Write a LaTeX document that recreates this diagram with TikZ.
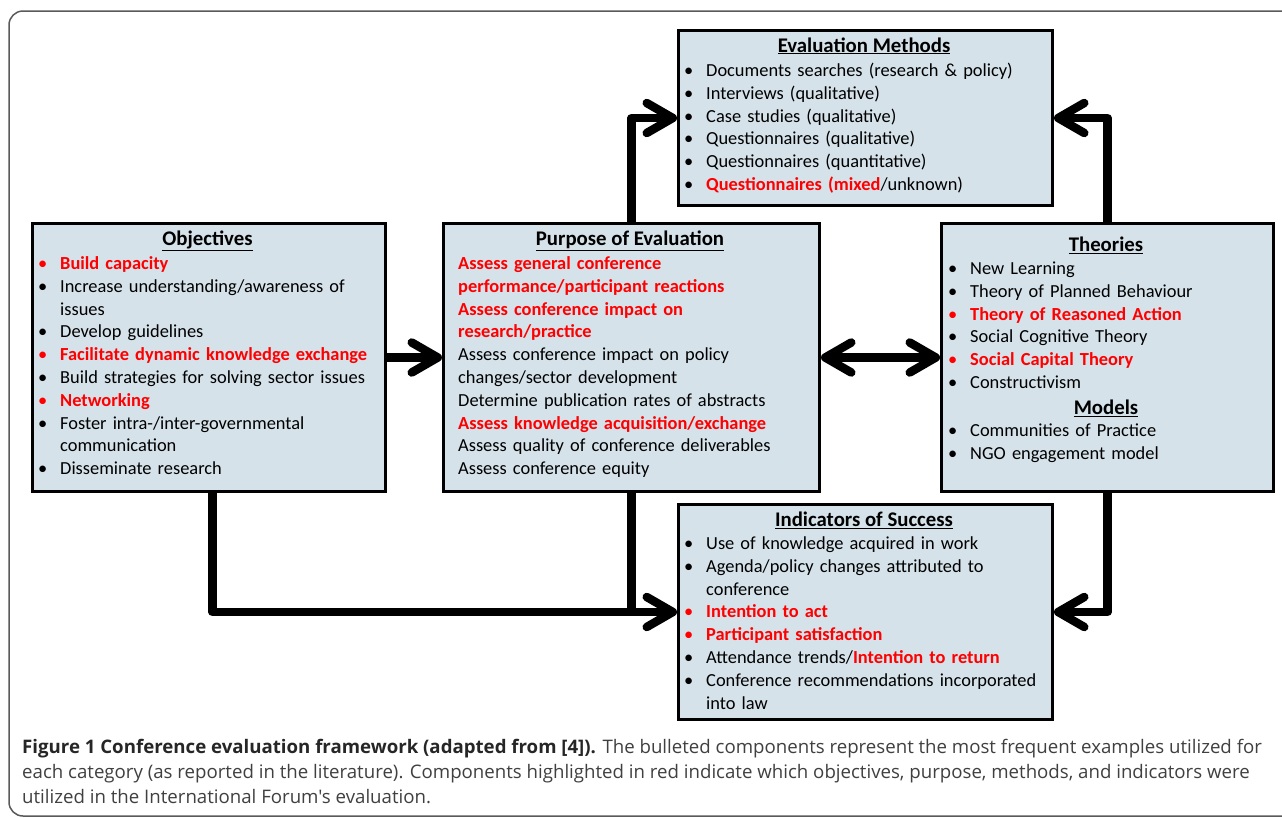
\documentclass[tikz,border=0pt]{standalone}
\usepackage{fontspec}
\setmainfont{Carlito}
\newfontfamily\capfont{Open Sans}
\usetikzlibrary{arrows.meta}
\definecolor{boxfill}{RGB}{213,226,234}
\definecolor{hl}{RGB}{255,0,0}
\definecolor{capgray}{RGB}{64,64,64}
\definecolor{framegray}{RGB}{90,90,90}
\newcommand{\bi}[1]{\makebox[22pt][l]{\textbullet}#1\par}
\newcommand{\ri}[1]{\makebox[22pt][l]{\textcolor{hl}{\textbullet}}\textcolor{hl}{\textbf{#1}}\par}
\newcommand{\cont}[1]{\hspace*{22pt}#1\par}
\newcommand{\rb}[1]{\textcolor{hl}{\textbf{#1}}}
\begin{document}
\begin{tikzpicture}[x=1pt,y=-1pt,
  box/.style={draw=black,line width=3pt,fill=boxfill,anchor=north west,inner sep=0pt},
  ttl/.style={font=\fontsize{20.8}{24}\selectfont\bfseries,anchor=base,inner sep=0pt},
  lst/.style={font=\fontsize{18.4}{22.8}\selectfont,anchor=base west,inner sep=0pt,text width=420pt,align=left},
  captxt/.style={font=\capfont\fontsize{18.65}{25}\selectfont,text=capgray,anchor=base west,inner sep=0pt},
  arr/.style={line width=8.5pt,line join=round,-{Straight Barb[length=26pt,width=30pt,round]}},
  darr/.style={line width=8.5pt,line join=round,{Straight Barb[length=26pt,width=30pt,round]}-{Straight Barb[length=26pt,width=30pt,round]}},
  seg/.style={line width=8.5pt,line join=round}]
\useasboundingbox (0,0) rectangle (1282,817);
\fill[white] (0,0) rectangle (1282,817);
\draw[framegray,line width=1.5pt,rounded corners=14pt] (9,11) rectangle (1330,816);

% boxes
\node[box,minimum width=374pt,minimum height=175pt] (eval) at (677,29) {};
\node[box,minimum width=353pt,minimum height=268pt] (obj) at (31,222) {};
\node[box,minimum width=376pt,minimum height=268pt] (pur) at (442,222) {};
\node[box,minimum width=332pt,minimum height=268pt] (theo) at (940,222) {};
\node[box,minimum width=374pt,minimum height=215pt] (ind) at (677,503) {};

% evaluation methods
\node[ttl] (evalt) at (864,52) {\underline{Evaluation Methods}};
\node[lst] (evall) at (684,76.5) {%
\bi{Documents searches (research \& policy)}
\bi{Interviews (qualitative)}
\bi{Case studies (qualitative)}
\bi{Questionnaires (qualitative)}
\bi{Questionnaires (quantitative)}
\bi{\rb{Questionnaires (mixed}/unknown)}};

% objectives
\node[ttl] (objt) at (207.5,245.5) {\underline{Objectives}};
\node[lst] (objl) at (38,269.5) {%
\ri{Build capacity}
\bi{Increase understanding/awareness of}
\cont{issues}
\bi{Develop guidelines}
\ri{Facilitate dynamic knowledge exchange}
\bi{Build strategies for solving sector issues}
\ri{Networking}
\bi{Foster intra-/inter-governmental}
\cont{communication}
\bi{Disseminate research}};

% purpose
\node[ttl] (purt) at (630,245.5) {\underline{Purpose of Evaluation}};
\node[lst] (purl) at (458,269.5) {%
\rb{Assess general conference}\\
\rb{performance/participant reactions}\\
\rb{Assess conference impact on}\\
\rb{research/practice}\\
Assess conference impact on policy\\
changes/sector development\\
Determine publication rates of abstracts\\
\rb{Assess knowledge acquisition/exchange}\\
Assess quality of conference deliverables\\
Assess conference equity};

% theories
\node[ttl] (theot) at (1106,251.5) {\underline{Theories}};
\node[lst] (theol) at (948,274.5) {%
\bi{New Learning}
\bi{Theory of Planned Behaviour}
\ri{Theory of Reasoned Action}
\bi{Social Cognitive Theory}
\ri{Social Capital Theory}
\bi{Constructivism}};
\node[ttl] (modt) at (1106,414.5) {\underline{Models}};
\node[lst] (modl) at (948,436.5) {%
\bi{Communities of Practice}
\bi{NGO engagement model}};

% indicators
\node[ttl] (indt) at (864,526.5) {\underline{Indicators of Success}};
\node[lst] (indl) at (684,549.5) {%
\bi{Use of knowledge acquired in work}
\bi{Agenda/policy changes attributed to}
\cont{conference}
\ri{Intention to act}
\ri{Participant satisfaction}
\bi{Attendance trends/\rb{Intention to return}}
\bi{Conference recommendations incorporated}
\cont{into law}};

% connectors
\draw[arr] (obj.east) -- (pur.west);
\draw[darr] (pur.east) -- (theo.west);
\draw[arr] (pur.north) |- (eval.west);
\draw[arr] (theo.north) |- (eval.east);
\draw[arr] (theo.south) |- (ind.east);
\draw[arr] ([xshift=3.5pt]obj.south) |- (ind.west);
\draw[seg] (pur.south) -- (pur.south |- ind.west);

% caption
\node[captxt] (cap1) at (22,753) {\textbf{\color{black!85}Figure 1 Conference evaluation framework (adapted from [4]).} The bulleted components represent the most frequent examples utilized for};
\node[captxt] (cap2) at (22,778) {each category (as reported in the literature). Components highlighted in red indicate which objectives, purpose, methods, and indicators were};
\node[captxt] (cap3) at (22,803) {utilized in the International Forum's evaluation.};
\end{tikzpicture}
\end{document}
